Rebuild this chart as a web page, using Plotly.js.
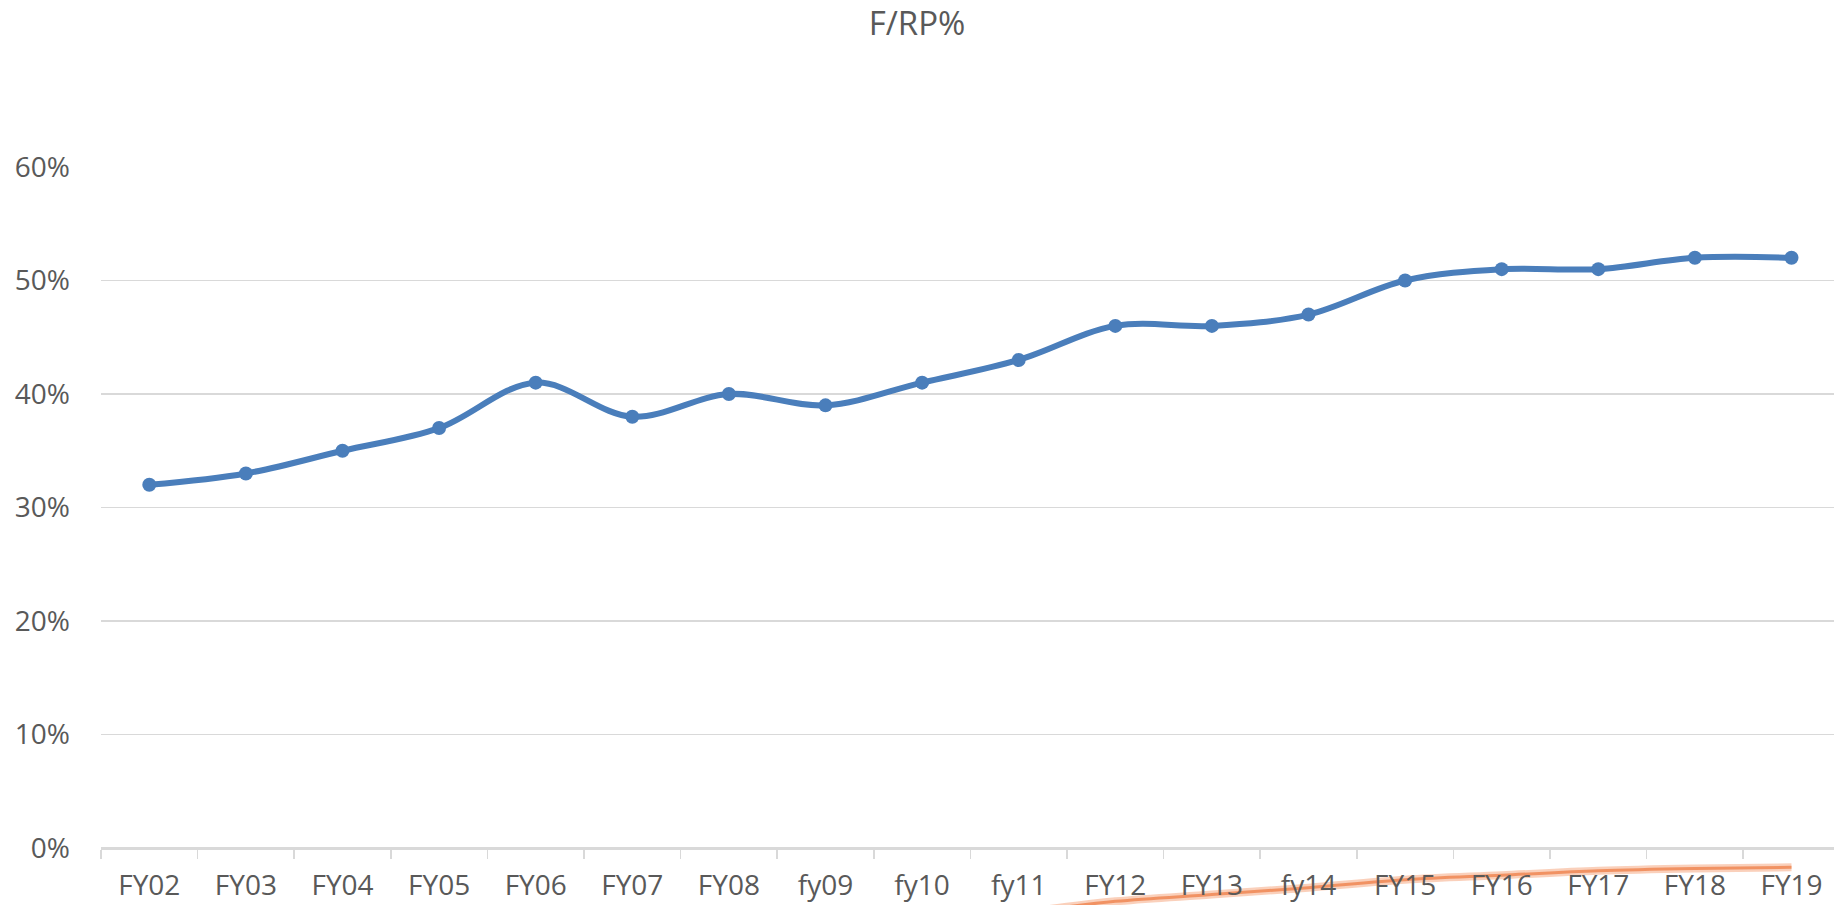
<!DOCTYPE html>
<html>
<head>
<meta charset="utf-8">
<script src="https://cdn.plot.ly/plotly-3.0.1.min.js"></script>
<style>html,body{margin:0;padding:0;background:#fff;}#chart{width:1834px;height:905px;}</style>
</head>
<body>
<div id="chart"></div>
<script>
// Data
const categories = ["FY02","FY03","FY04","FY05","FY06","FY07","FY08","fy09","fy10","fy11","FY12","FY13","fy14","FY15","FY16","FY17","FY18","FY19"];
const frpValues = [0.32,0.33,0.35,0.37,0.41,0.38,0.40,0.39,0.41,0.43,0.46,0.46,0.47,0.50,0.51,0.51,0.52,0.52];
// Faint orange stroke seen below the axis (second series, mostly off-chart)
const strokeCategories = ["fy10","fy11","FY12","FY13","fy14","FY15","FY16","FY17","FY18","FY19"];
const strokeValues = [-0.066,-0.057,-0.047,-0.041,-0.035,-0.028,-0.024,-0.020,-0.018,-0.017];
const yTickVals = [0,0.1,0.2,0.3,0.4,0.5,0.6];
const yTickText = ["0%","10%","20%","30%","40%","50%","60%"];
const chartTitle = "F/RP%";

const textColor = "#595959";
const gridColor = "#D9D9D9";
const fontFamily = "'Open Sans', 'Noto Sans', sans-serif";

const H = 905, topMargin = 167, zeroPx = 848;
const plotH = H - topMargin;
const pxPerUnit = (zeroPx - topMargin) / 0.6;
const yMin = -(H - zeroPx) / pxPerUnit;
const axisPos = (H - zeroPx) / plotH;

const traces = [
  {
    x: strokeCategories, y: strokeValues, type: "scatter", mode: "lines",
    line: {color: "rgba(244,150,105,0.45)", width: 8, shape: "spline", smoothing: 1},
    hoverinfo: "skip", showlegend: false
  },
  {
    x: strokeCategories, y: strokeValues, type: "scatter", mode: "lines",
    line: {color: "rgba(237,125,70,0.75)", width: 3, shape: "spline", smoothing: 1},
    hoverinfo: "skip", showlegend: false
  },
  {
    x: categories, y: frpValues, type: "scatter", mode: "lines+markers",
    line: {color: "#4A7EBB", width: 6, shape: "spline", smoothing: 1},
    marker: {color: "#4A7EBB", size: 14},
    showlegend: false
  }
];

const layout = {
  width: 1834, height: 905,
  paper_bgcolor: "#ffffff", plot_bgcolor: "#ffffff",
  margin: {l: 101, r: 0, t: topMargin, b: 0},
  title: {text: chartTitle, x: 0.5, xanchor: "center", y: 1 - 23/905, yanchor: "middle",
          font: {family: fontFamily, size: 33, color: textColor}},
  xaxis: {
    type: "category", categoryorder: "array", categoryarray: categories,
    range: [-0.5, 17.44],
    anchor: "free", position: axisPos,
    showgrid: false, zeroline: false,
    showline: true, linecolor: gridColor, linewidth: 1.5,
    ticks: "outside", tickson: "boundaries", ticklen: 9, tickcolor: gridColor, tickwidth: 1.5,
    ticklabelstandoff: 12,
    tickfont: {family: fontFamily, size: 28, color: textColor},
    fixedrange: true
  },
  yaxis: {
    range: [yMin, 0.6],
    tickvals: yTickVals, ticktext: yTickText,
    showgrid: true, gridcolor: gridColor, gridwidth: 1.5,
    zeroline: false, showline: false, ticks: "",
    ticklabelstandoff: 30,
    tickfont: {family: fontFamily, size: 28, color: textColor},
    fixedrange: true
  },
  showlegend: false
};

Plotly.newPlot("chart", traces, layout, {displayModeBar: false, staticPlot: true});
</script>
</body>
</html>
